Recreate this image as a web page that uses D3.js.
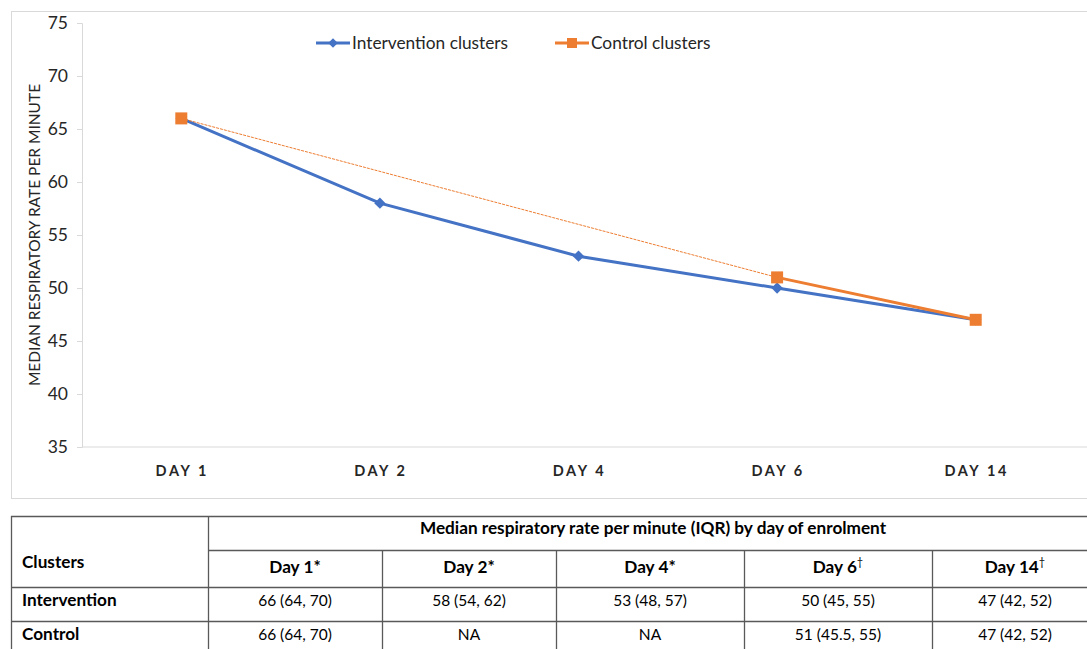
<!DOCTYPE html>
<html>
<head>
<meta charset="utf-8">
<script src="https://cdn.jsdelivr.net/npm/d3@7"></script>
<style>
  body { margin: 0; background: #fff; }
  svg { font-family: Lato, "Noto Sans", sans-serif; }
</style>
</head>
<body>
<div class="chart"></div>
<script>
// chart data
const days = ['DAY 1', 'DAY 2', 'DAY 4', 'DAY 6', 'DAY 14'];
const intervention = [66, 58, 53, 50, 47];
const control = [66, null, null, 51, 47];
const yTicks = [35, 40, 45, 50, 55, 60, 65, 70, 75];

// table data
const tableTitle = 'Median respiratory rate per minute (IQR) by day of enrolment';
const dayLabels = ['Day 1', 'Day 2', 'Day 4', 'Day 6', 'Day 14'];
const dayMarks = ['*', '*', '*', '\u2020', '\u2020'];
const rowNames = ['Intervention', 'Control'];
const interventionIQR = ['66 (64, 70)', '58 (54, 62)', '53 (48, 57)', '50 (45, 55)', '47 (42, 52)'];
const controlIQR = ['66 (64, 70)', 'NA', 'NA', '51 (45.5, 55)', '47 (42, 52)'];

const width = 1087, height = 649;
const blue = '#4472C4', orange = '#ED7D31';

const svg = d3.select('.chart').append('svg')
  .attr('width', width).attr('height', height);

// chart frame
svg.append('rect')
  .attr('x', 11.5).attr('y', 11.5)
  .attr('width', 1100).attr('height', 487)
  .attr('fill', 'none').attr('stroke', '#d9d9d9');

const x = d3.scaleBand().domain(days).range([82, 1075]);
const y = d3.scaleLinear().domain([35, 75]).range([447, 23]);
const cx = d => x(d) + x.bandwidth() / 2;

// y axis
const yAxis = d3.axisLeft(y).tickValues(yTicks).tickSize(5).tickPadding(9);
const yG = svg.append('g').attr('transform', 'translate(82,0)').call(yAxis);
yG.attr('font-size', null).attr('font-family', null);
yG.select('.domain').attr('stroke', '#d9d9d9');
yG.selectAll('.tick line').attr('stroke', '#d9d9d9');
yG.selectAll('text').attr('fill', '#262626').style('font-size', '17.5px');

// baseline
svg.append('line')
  .attr('x1', 82).attr('x2', 1087)
  .attr('y1', y(35)).attr('y2', y(35))
  .attr('stroke', '#d9d9d9');

// x labels
svg.append('g').selectAll('text')
  .data(days).enter().append('text')
  .attr('x', d => cx(d) + 1).attr('y', 476)
  .attr('text-anchor', 'middle')
  .style('font-size', '14.5px').style('font-weight', 'bold')
  .style('letter-spacing', '2.6px')
  .attr('fill', '#262626')
  .text(d => d);

// y title
svg.append('text')
  .attr('transform', 'translate(40,235) rotate(-90)')
  .attr('text-anchor', 'middle')
  .style('font-size', '15.5px')
  .attr('fill', '#262626')
  .text('MEDIAN RESPIRATORY RATE PER MINUTE');

// lines
const iData = days.map((d, i) => ({day: d, v: intervention[i]}));
const cData = days.map((d, i) => ({day: d, v: control[i]})).filter(d => d.v !== null);
const line = d3.line().x(d => cx(d.day)).y(d => y(d.v));

svg.append('path').datum(iData)
  .attr('d', line).attr('fill', 'none')
  .attr('stroke', blue).attr('stroke-width', 3);

svg.selectAll('.dia').data(iData).enter().append('path')
  .attr('class', 'dia')
  .attr('transform', d => `translate(${cx(d.day)},${y(d.v)}) rotate(45)`)
  .attr('d', d3.symbol(d3.symbolSquare, 64)())
  .attr('fill', blue);

// control: thin line across missing days, thick where consecutive
svg.append('path').datum(cData.slice(0, 2))
  .attr('d', line).attr('fill', 'none')
  .attr('stroke', orange).attr('stroke-width', 1)
  .attr('stroke-dasharray', '3,1');
svg.append('path').datum(cData.slice(1))
  .attr('d', line).attr('fill', 'none')
  .attr('stroke', orange).attr('stroke-width', 3);

svg.selectAll('.sq').data(cData).enter().append('rect')
  .attr('class', 'sq')
  .attr('x', d => cx(d.day) - 6).attr('y', d => y(d.v) - 6)
  .attr('width', 12).attr('height', 12)
  .attr('fill', orange);

// legend
const legend = [
  {name: 'Intervention clusters', color: blue, x: 316, mark: 'dia'},
  {name: 'Control clusters', color: orange, x: 555, mark: 'sq'}
];
const lg = svg.append('g').selectAll('g').data(legend).enter().append('g')
  .attr('transform', d => `translate(${d.x},43)`);
lg.append('line').attr('x1', 0).attr('x2', 34)
  .attr('stroke', d => d.color).attr('stroke-width', 3);
lg.append('path')
  .attr('transform', d => d.mark === 'dia' ? 'translate(17,0) rotate(45)' : 'translate(17,0)')
  .attr('d', d => d.mark === 'dia' ? d3.symbol(d3.symbolSquare, 45)() : d3.symbol(d3.symbolSquare, 100)())
  .attr('fill', d => d.color);
lg.append('text').attr('x', 36).attr('y', 6)
  .style('font-size', '17.3px').attr('fill', '#262626')
  .text(d => d.name);

// table
const colX = [11, 208, 382, 556, 744, 932, 1098];
const rowY = [516, 550, 587, 621, 655];
const tg = svg.append('g').attr('class', 'table');
const stroke = '#595959';
const hl = (x1, x2, yy) => tg.append('line').attr('x1', x1).attr('x2', x2)
  .attr('y1', yy + 0.5).attr('y2', yy + 0.5).attr('stroke', stroke).attr('stroke-width', 1.3);
const vl = (xx, y1, y2) => tg.append('line').attr('x1', xx + 0.5).attr('x2', xx + 0.5)
  .attr('y1', y1).attr('y2', y2).attr('stroke', stroke).attr('stroke-width', 1.3);

hl(colX[0], colX[6], rowY[0]);
hl(colX[1], colX[6], rowY[1]);
hl(colX[0], colX[6], rowY[2]);
hl(colX[0], colX[6], rowY[3]);
vl(colX[0], rowY[0], rowY[4]);
vl(colX[1], rowY[0], rowY[4]);
colX.slice(2, 6).forEach(c => vl(c, rowY[1], rowY[4]));

const tfont = '15.5px', bfont = '17.2px';
tg.append('text').attr('x', (colX[1] + colX[6]) / 2).attr('y', rowY[0] + 18)
  .attr('text-anchor', 'middle').style('font-size', bfont).style('font-weight', 'bold')
  .attr('fill', '#000').text(tableTitle);
tg.append('text').attr('x', 22).attr('y', 568)
  .style('font-size', bfont).style('font-weight', 'bold').attr('fill', '#000').text('Clusters');

dayLabels.forEach((d, i) => {
  const t = tg.append('text').attr('x', (colX[i + 1] + colX[i + 2]) / 2).attr('y', rowY[1] + 23)
    .attr('text-anchor', 'middle').style('font-size', bfont).style('font-weight', 'bold')
    .attr('fill', '#000');
  t.append('tspan').text(d);
  if (dayMarks[i] === '*') t.append('tspan').text('*');
  else t.append('tspan').attr('dy', -7).style('font-size', '11px').style('font-weight', 'normal').text(dayMarks[i]);
});

[interventionIQR, controlIQR].forEach((row, r) => {
  tg.append('text').attr('x', 22).attr('y', rowY[r + 2] + 19)
    .style('font-size', bfont).style('font-weight', 'bold').attr('fill', '#000').text(rowNames[r]);
  row.forEach((v, i) => {
    tg.append('text').attr('x', (colX[i + 1] + colX[i + 2]) / 2).attr('y', rowY[r + 2] + 19)
      .attr('text-anchor', 'middle').style('font-size', tfont).attr('fill', '#000').text(v);
  });
});
</script>
</body>
</html>
